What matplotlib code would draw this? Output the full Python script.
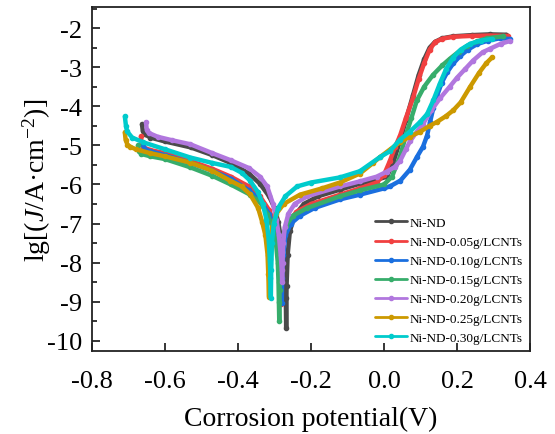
import numpy as np
import matplotlib.pyplot as plt
from matplotlib.ticker import MultipleLocator

plt.rcParams['font.family'] = ['Liberation Serif', 'DejaVu Serif']
plt.rcParams['mathtext.fontset'] = 'custom'
plt.rcParams['mathtext.rm'] = 'Liberation Serif'
plt.rcParams['mathtext.it'] = 'Liberation Serif:italic'
plt.rcParams['axes.unicode_minus'] = False

###############################################################################

# Potential (V) and lg|J| for each sample
ni_nd_E = [-0.663, -0.661, -0.655, -0.64, -0.60, -0.53, -0.47, -0.42, -0.37,
           -0.34, -0.315, -0.30, -0.29, -0.282, -0.276, -0.272, -0.269, -0.268,
           -0.267, -0.264, -0.258, -0.245, -0.22, -0.18, -0.12, -0.066, -0.02,
           0.008, 0.025, 0.045, 0.06, 0.08, 0.095, 0.11, 0.125, 0.14, 0.16,
           0.19, 0.24, 0.29, 0.335]
ni_nd_J = [-4.46, -4.62, -4.72, -4.80, -4.90, -5.05, -5.25, -5.45, -5.72,
           -5.98, -6.3, -6.6, -6.95, -7.4, -7.9, -8.4, -8.9, -9.67,
           -8.6, -7.8, -7.2, -6.8, -6.5, -6.3, -6.13, -5.98, -5.88,
           -5.8, -5.45, -4.85, -4.35, -3.7, -3.2, -2.8, -2.5, -2.35, -2.26,
           -2.21, -2.18, -2.16, -2.17]

nd05_E = [-0.666, -0.664, -0.66, -0.64, -0.60, -0.53, -0.47, -0.42, -0.37,
          -0.34, -0.315, -0.30, -0.292, -0.287, -0.284, -0.283,
          -0.282, -0.279, -0.273, -0.26, -0.24, -0.20, -0.12, -0.066, -0.02,
          0.0, 0.016, 0.03, 0.044, 0.06, 0.079, 0.095, 0.11, 0.125, 0.14,
          0.16, 0.19, 0.24, 0.29, 0.34]
nd05_J = [-4.77, -4.95, -5.05, -5.12, -5.2, -5.4, -5.6, -5.8, -6.05,
          -6.3, -6.65, -7.0, -7.4, -7.9, -8.5, -9.06,
          -8.4, -7.8, -7.3, -6.95, -6.7, -6.5, -6.26, -6.1, -5.95,
          -5.75, -5.4, -5.05, -4.75, -4.3, -3.8, -3.3, -2.9, -2.55, -2.36,
          -2.27, -2.22, -2.2, -2.19, -2.2]

nd10_E = [-0.660, -0.655, -0.64, -0.60, -0.53, -0.47, -0.42, -0.37, -0.34,
          -0.315, -0.30, -0.29, -0.285, -0.282, -0.280,
          -0.279, -0.276, -0.27, -0.255, -0.23, -0.19, -0.12, -0.066, 0.0,
          0.016, 0.045, 0.071, 0.09, 0.107, 0.118, 0.126, 0.135, 0.145, 0.158,
          0.173, 0.19, 0.208, 0.23, 0.255, 0.285, 0.318, 0.345]
nd10_J = [-4.98, -5.10, -5.15, -5.25, -5.45, -5.65, -5.85, -6.15, -6.4,
          -6.75, -7.1, -7.5, -8.0, -8.5, -9.03,
          -8.4, -7.8, -7.3, -7.0, -6.8, -6.6, -6.38, -6.26, -6.1,
          -6.05, -5.9, -5.62, -5.3, -5.03, -4.75, -4.41, -4.05, -3.74, -3.4,
          -3.13, -2.9, -2.72, -2.55, -2.41, -2.32, -2.26, -2.28]

nd15_E = [-0.674, -0.672, -0.665, -0.64, -0.60, -0.531, -0.47, -0.42, -0.367,
          -0.34, -0.32, -0.305, -0.296, -0.291, -0.289, -0.288, -0.287,
          -0.286, -0.284, -0.279, -0.268, -0.25, -0.21, -0.12, -0.066, 0.0,
          0.022, 0.044, 0.063, 0.075, 0.09, 0.11, 0.134, 0.16, 0.181, 0.205,
          0.227, 0.255, 0.282, 0.326]
nd15_J = [-5.0, -5.15, -5.22, -5.28, -5.35, -5.56, -5.78, -6.0, -6.26,
          -6.45, -6.75, -7.1, -7.5, -8.0, -8.5, -9.0, -9.48,
          -8.7, -8.0, -7.4, -7.05, -6.8, -6.6, -6.3, -6.15, -6.0,
          -5.8, -5.28, -4.65, -4.3, -3.85, -3.5, -3.2, -2.95, -2.78, -2.6,
          -2.46, -2.34, -2.26, -2.21]

nd20_E = [-0.652, -0.650, -0.645, -0.62, -0.58, -0.531, -0.47, -0.42, -0.37,
          -0.34, -0.32, -0.304, -0.295, -0.288, -0.283, -0.280, -0.279,
          -0.278, -0.276, -0.272, -0.262, -0.245, -0.21, -0.12, -0.066, -0.02,
          0.008, 0.03, 0.044, 0.06, 0.071, 0.09, 0.107, 0.13, 0.153, 0.18,
          0.2, 0.222, 0.244, 0.27, 0.29, 0.32, 0.345]
nd20_J = [-4.41, -4.6, -4.68, -4.78, -4.87, -4.97, -5.2, -5.38, -5.58,
          -5.8, -6.05, -6.5, -6.9, -7.3, -7.8, -8.2, -8.5,
          -8.0, -7.5, -7.1, -6.75, -6.5, -6.3, -6.05, -5.92, -5.8,
          -5.67, -5.55, -5.4, -5.1, -4.9, -4.65, -4.45, -4.1, -3.8, -3.5,
          -3.27, -3.05, -2.83, -2.62, -2.53, -2.4, -2.33]

nd25_E = [-0.710, -0.708, -0.703, -0.696, -0.68, -0.64, -0.60, -0.531, -0.47,
          -0.422, -0.39, -0.367, -0.345, -0.334, -0.325, -0.319, -0.317,
          -0.315, -0.314, -0.312, -0.306, -0.295, -0.275, -0.23, -0.17, -0.121,
          -0.066, -0.03, -0.011, 0.02, 0.044, 0.07, 0.099, 0.125, 0.145, 0.17,
          0.19, 0.21, 0.236, 0.26, 0.28, 0.296]
nd25_J = [-4.67, -4.85, -4.98, -5.03, -5.1, -5.2, -5.28, -5.44, -5.65,
          -5.9, -6.05, -6.25, -6.6, -6.95, -7.3, -7.8, -8.3,
          -8.87, -8.2, -7.6, -7.1, -6.75, -6.5, -6.26, -6.1, -5.95,
          -5.72, -5.45, -5.3, -5.08, -4.92, -4.78, -4.65, -4.5, -4.4, -4.25,
          -4.1, -3.9, -3.5, -3.15, -2.9, -2.75]

nd30_E = [-0.710, -0.707, -0.704, -0.69, -0.660, -0.60, -0.531, -0.47, -0.42,
          -0.39, -0.367, -0.345, -0.332, -0.322, -0.316, -0.313, -0.311, -0.310,
          -0.309, -0.307, -0.302, -0.29, -0.27, -0.238, -0.2, -0.121, -0.066,
          -0.011, 0.016, 0.044, 0.071, 0.099, 0.118, 0.135, 0.153, 0.17, 0.189,
          0.21, 0.236, 0.265, 0.295]
nd30_J = [-4.26, -4.5, -4.64, -4.8, -4.92, -5.1, -5.31, -5.45, -5.55,
          -5.7, -5.9, -6.2, -6.5, -6.9, -7.4, -7.9, -8.4, -8.9,
          -8.2, -7.5, -7.0, -6.6, -6.3, -6.05, -5.95, -5.82, -5.66,
          -5.3, -5.15, -4.85, -4.65, -4.4, -4.2, -3.85, -3.42, -3.05, -2.76,
          -2.55, -2.4, -2.32, -2.28]

labels = ['Ni-ND', 'Ni-ND-0.05g/LCNTs', 'Ni-ND-0.10g/LCNTs', 'Ni-ND-0.15g/LCNTs',
          'Ni-ND-0.20g/LCNTs', 'Ni-ND-0.25g/LCNTs', 'Ni-ND-0.30g/LCNTs']
colors = ['#4a4a4a', '#F14040', '#1A6FDF', '#37AD6B', '#B177DE', '#CC9900',
          '#00CBCC']

x_ticks = [-0.8, -0.6, -0.4, -0.2, 0.0, 0.2, 0.4]
x_tick_labels = ['-0.8', '-0.6', '-0.4', '-0.2', '0.0', '0.2', '0.4']

###############################################################################

series = [(ni_nd_E, ni_nd_J), (nd05_E, nd05_J), (nd10_E, nd10_J),
          (nd15_E, nd15_J), (nd20_E, nd20_J), (nd25_E, nd25_J),
          (nd30_E, nd30_J)]

fig = plt.figure(figsize=(5.55, 4.35), dpi=100)
ax = fig.add_axes([92 / 555, 1 - 352 / 435, 438 / 555, 344 / 435])

for (ee, jj), lab, col in zip(series, labels, colors):
    ax.plot(ee, jj, color=col, lw=3.2, marker='o', ms=3, label=lab,
            solid_capstyle='round', solid_joinstyle='round')

ax.set_xlim(-0.8, 0.4)
ax.set_ylim(-10.26, -1.46)
ax.set_xticks(x_ticks)
ax.set_xticklabels(x_tick_labels)
ax.yaxis.set_major_locator(MultipleLocator(1))
ax.yaxis.set_minor_locator(MultipleLocator(0.5))

ax.tick_params(which='both', direction='in', top=False, right=False,
               labelsize=19, width=1.1)
ax.tick_params(which='major', length=6)
ax.tick_params(axis='x', pad=14)
ax.tick_params(axis='y', pad=7)
ax.tick_params(which='minor', length=3.5)
for sp in ax.spines.values():
    sp.set_linewidth(1.3)
    sp.set_color('#222222')

ax.set_xlabel('Corrosion potential(V)', fontsize=20, labelpad=10)
ax.set_ylabel(r'lg[($J$/A·cm$^{-2}$)]', fontsize=20, labelpad=-4)

leg = ax.legend(loc='upper left', bbox_to_anchor=(0.646, 0.39), frameon=False,
                fontsize=9.5, handlelength=2.4, handletextpad=0.25,
                labelspacing=0.52, borderpad=0, borderaxespad=0)
for h in leg.legend_handles:
    h.set_linewidth(2)
    h.set_markersize(3)

plt.savefig('out.png', dpi=100)
